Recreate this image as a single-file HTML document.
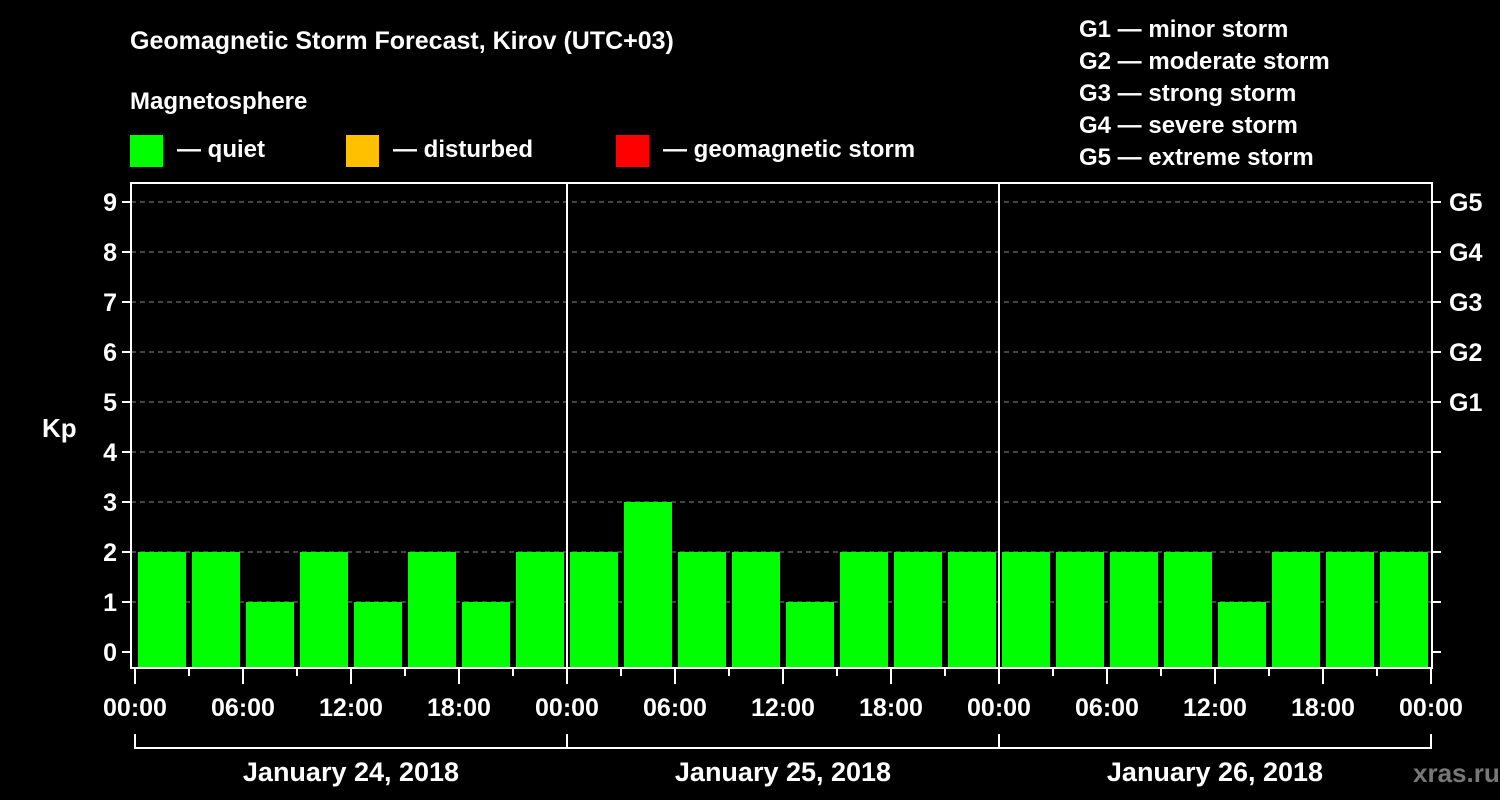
<!DOCTYPE html>
<html><head><meta charset="utf-8"><style>
body{margin:0;background:#000;}
svg{display:block;font-family:"Liberation Sans",Arial,sans-serif;font-weight:bold;}
</style></head><body>
<svg id="chart" width="1500" height="800" viewBox="0 0 1500 800">
<rect width="1500" height="800" fill="#000"/>
<text x="130" y="49" fill="#fff" font-size="25">Geomagnetic Storm Forecast, Kirov (UTC+03)</text>
<text x="130" y="109" fill="#fff" font-size="24">Magnetosphere</text>
<g><rect x="130" y="135" width="33" height="32" fill="#00ff00"/><text x="177" y="157" fill="#fff" font-size="24">— quiet</text></g>
<g><rect x="346" y="135" width="33" height="32" fill="#ffc000"/><text x="393" y="157" fill="#fff" font-size="24">— disturbed</text></g>
<g><rect x="616" y="135" width="33" height="32" fill="#ff0000"/><text x="663" y="157" fill="#fff" font-size="24">— geomagnetic storm</text></g>
<g fill="#fff" font-size="24">
<text x="1079" y="37">G1 — minor storm</text>
<text x="1079" y="69">G2 — moderate storm</text>
<text x="1079" y="101">G3 — strong storm</text>
<text x="1079" y="133">G4 — severe storm</text>
<text x="1079" y="165">G5 — extreme storm</text>
</g>
<text x="42" y="437" fill="#fff" font-size="26">Kp</text>
<text x="1413" y="782" fill="#777" font-size="26">xras.ru</text>
<g id="grid"></g><g id="bars"></g><g id="axes"></g>
</svg>
<script>
const kpValues=[2,2,1,2,1,2,1,2, 2,3,2,2,1,2,2,2, 2,2,2,2,1,2,2,2];
const dayLabels=["January 24, 2018","January 25, 2018","January 26, 2018"];
const yTicks=[0,1,2,3,4,5,6,7,8,9];
const gLabels=["G1","G2","G3","G4","G5"];
const gLevels=[5,6,7,8,9];
const hourLabels=["00:00","06:00","12:00","18:00"];

const L=131,R=1432,T=183,B=668,X0=135,DAYW=432;
const y=v=>652-v*50;
const x=h=>X0+h*DAYW/24;
const NS="http://www.w3.org/2000/svg";
function mk(tag,attrs,parent,text){const e=document.createElementNS(NS,tag);for(const k in attrs)e.setAttribute(k,attrs[k]);if(text!==undefined)e.textContent=text;document.getElementById(parent).appendChild(e);return e;}

yTicks.forEach(v=>{
 if(v>0){const g=mk('line',{x1:L,x2:R,y1:y(v),y2:y(v),stroke:'#888','stroke-width':1,'stroke-dasharray':'5,4'},'grid');
 
 }
 const t=mk('line',{x1:122,x2:L,y1:y(v),y2:y(v),stroke:'#fff','stroke-width':2},'axes');
 
 
 const r=mk('line',{x1:R,x2:1441,y1:y(v),y2:y(v),stroke:'#fff','stroke-width':2},'axes');
 
 
 const l=mk('text',{x:117,y:y(v)+9,fill:'#fff','font-size':25,'text-anchor':'end'},'axes',String(v));
 
 
});
gLabels.forEach((g,i)=>{
 const l=mk('text',{x:1449,y:y(gLevels[i])+9,fill:'#fff','font-size':25},'axes',g);
 
 
});
kpValues.forEach((v,i)=>{
 const b=mk('rect',{x:x(i*3)+3,y:y(v),width:DAYW/8-6,height:B-y(v),fill:'#00ff00'},'bars');
 
 
});
for(let d=1;d<dayLabels.length;d++){
 const s=mk('line',{x1:x(d*24),x2:x(d*24),y1:T,y2:B,stroke:'#fff','stroke-width':2},'axes');
 
 
}
const f=mk('rect',{x:L,y:T,width:R-L,height:B-T,fill:'none',stroke:'#fff','stroke-width':2},'axes');


for(let h=0;h<=72;h+=3){
 const major=h%6===0;
 const t=mk('line',{x1:x(h),x2:x(h),y1:B,y2:major?B+16:B+8,stroke:'#fff','stroke-width':2},'axes');
 
 
 if(major){const l=mk('text',{x:x(h),y:716,fill:'#fff','font-size':25,'text-anchor':'middle'},'axes',hourLabels[(h%24)/6]);
 
 }
}
const br=mk('line',{x1:x(0),x2:x(72),y1:748,y2:748,stroke:'#fff','stroke-width':2},'axes');


dayLabels.forEach((d,i)=>{
 const v=mk('line',{x1:x(i*24),x2:x(i*24),y1:734,y2:749,stroke:'#fff','stroke-width':2},'axes');
 
 
 const l=mk('text',{x:x(i*24+12),y:781,fill:'#fff','font-size':27,'text-anchor':'middle'},'axes',d);
 
 
});
const ve=mk('line',{x1:x(72),x2:x(72),y1:734,y2:749,stroke:'#fff','stroke-width':2},'axes');


</script>
</body></html>
